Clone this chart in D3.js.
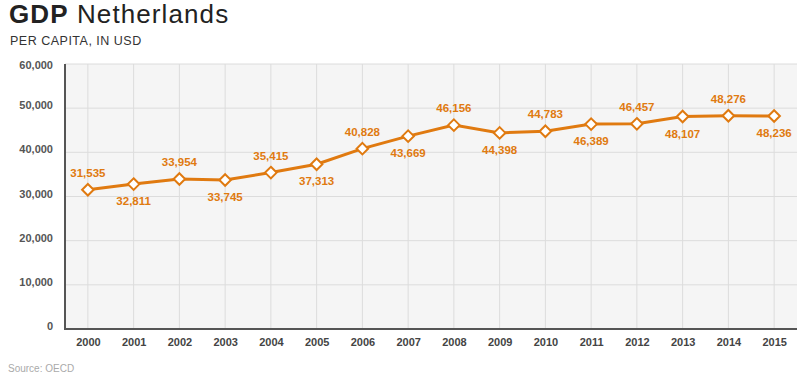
<!DOCTYPE html>
<html>
<head>
<meta charset="utf-8">
<script src="https://cdn.jsdelivr.net/npm/d3@7"></script>
<style>
  body { margin: 0; background: #fff; }
  text { font-family: "Liberation Sans", Arial, sans-serif; }
</style>
</head>
<body>
<script>
const years = ["2000", "2001", "2002", "2003", "2004", "2005", "2006", "2007",
               "2008", "2009", "2010", "2011", "2012", "2013", "2014", "2015"];
const gdp = [31535, 32811, 33954, 33745, 35415, 37313, 40828, 43669,
             46156, 44398, 44783, 46389, 46457, 48107, 48276, 48236];
const yTicks = [0, 10000, 20000, 30000, 40000, 50000, 60000];

const orange = "#e07a10";
const plotLeft = 65, plotRight = 797, plotTop = 64, plotBottom = 329;

const svg = d3.select("body").append("svg")
  .attr("width", 800)
  .attr("height", 380);

// titles
const title = svg.append("text")
  .attr("x", 9)
  .attr("y", 23)
  .attr("font-size", 26)
  .attr("letter-spacing", 1.1)
  .style("fill", "#222");
title.append("tspan").attr("font-weight", "bold").text("GDP");
title.append("tspan").text(" Netherlands");

svg.append("text")
  .attr("x", 10)
  .attr("y", 45)
  .attr("font-size", 12.5)
  .attr("letter-spacing", 0.5)
  .style("fill", "#333")
  .text("PER CAPITA, IN USD");

const x = d3.scalePoint()
  .domain(years)
  .range([plotLeft, plotRight])
  .padding(0.5);

const y = d3.scaleLinear()
  .domain([0, 60000])
  .range([plotBottom, plotTop]);

// plot background
svg.append("rect")
  .attr("x", plotLeft)
  .attr("y", plotTop)
  .attr("width", plotRight - plotLeft)
  .attr("height", plotBottom - plotTop)
  .attr("fill", "#f5f5f5");

// grid
svg.append("g").selectAll("line").data(yTicks.slice(1))
  .enter().append("line")
  .attr("x1", plotLeft).attr("x2", plotRight)
  .attr("y1", (d) => y(d)).attr("y2", (d) => y(d))
  .attr("stroke", "#dcdcdc");

svg.append("g").selectAll("line").data(years)
  .enter().append("line")
  .attr("x1", (d) => x(d)).attr("x2", (d) => x(d))
  .attr("y1", plotTop).attr("y2", plotBottom)
  .attr("stroke", "#dcdcdc");

// axes
const yAxis = svg.append("g")
  .attr("transform", `translate(${plotLeft},0)`)
  .call(d3.axisLeft(y).tickValues(yTicks).tickSize(0).tickPadding(12)
    .tickFormat(d3.format(",")));
yAxis.select(".domain").remove();
yAxis.selectAll("text")
  .attr("font-family", "Liberation Sans, Arial, sans-serif")
  .attr("font-size", 11)
  .attr("font-weight", "bold")
  .attr("dy", (d) => d === 60000 ? "0.4em" : "0.05em")
  .style("fill", "#555");

const xAxis = svg.append("g")
  .attr("transform", `translate(0,${plotBottom})`)
  .call(d3.axisBottom(x).tickSize(0).tickPadding(9));
xAxis.select(".domain").remove();
xAxis.selectAll("text")
  .attr("font-family", "Liberation Sans, Arial, sans-serif")
  .attr("font-size", 11)
  .attr("font-weight", "bold")
  .style("fill", "#444");

svg.append("line")
  .attr("x1", plotLeft).attr("x2", plotLeft)
  .attr("y1", plotTop).attr("y2", plotBottom + 1)
  .attr("stroke", "#555").attr("stroke-width", 2);
svg.append("line")
  .attr("x1", plotLeft).attr("x2", plotRight)
  .attr("y1", plotBottom).attr("y2", plotBottom)
  .attr("stroke", "#555").attr("stroke-width", 2);

// line
const pts = years.map((yr, i) => ({ year: yr, value: gdp[i], i: i }));

svg.append("path")
  .datum(pts)
  .attr("fill", "none")
  .attr("stroke", orange)
  .attr("stroke-width", 3)
  .attr("d", d3.line().x((d) => x(d.year)).y((d) => y(d.value)));

svg.append("g").selectAll("path").data(pts)
  .enter().append("path")
  .attr("transform", (d) => `translate(${x(d.year)},${y(d.value)})`)
  .attr("d", d3.symbol(d3.symbolDiamond2, 85))
  .attr("fill", "#fff")
  .attr("stroke", orange)
  .attr("stroke-width", 2);

svg.append("g").selectAll("text").data(pts)
  .enter().append("text")
  .attr("x", (d) => x(d.year))
  .attr("y", (d) => y(d.value) + (d.i % 2 === 0 ? -13 : 21))
  .attr("font-size", 11.5)
  .attr("font-weight", "bold")
  .style("text-anchor", "middle")
  .style("fill", orange)
  .text((d) => d3.format(",")(d.value));

svg.append("text")
  .attr("x", 8)
  .attr("y", 372)
  .attr("font-size", 10)
  .style("fill", "#aaa")
  .text("Source: OECD");
</script>
</body>
</html>
